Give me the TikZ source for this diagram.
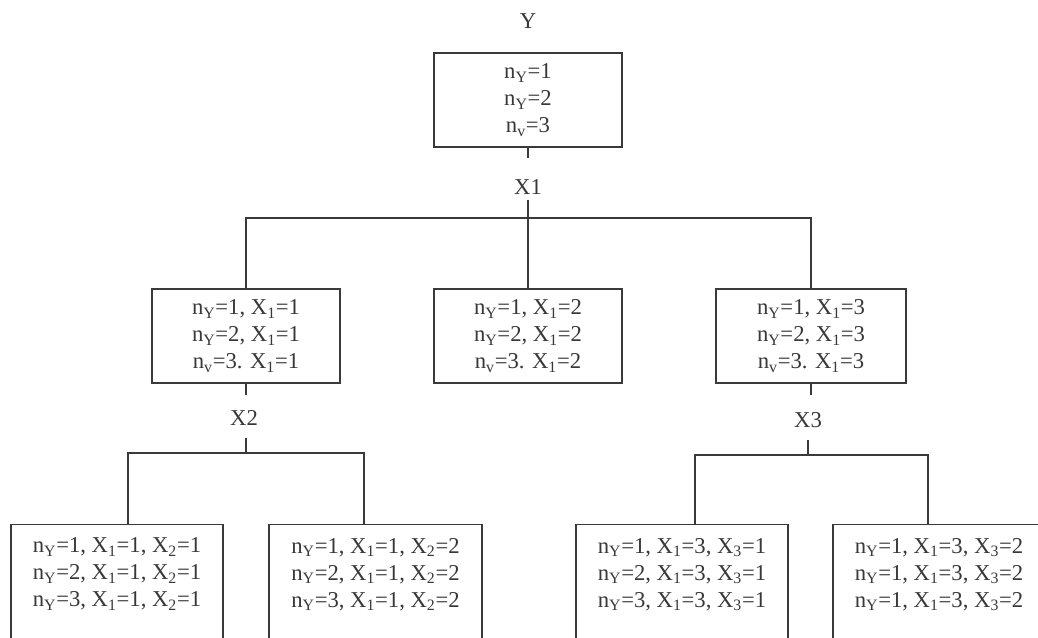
\documentclass[tikz,border=0pt]{standalone}
\usepackage{fontspec}
\setmainfont{Liberation Serif}
\definecolor{tc}{HTML}{383838}
\definecolor{lc}{HTML}{3A3A3A}
\newcommand{\nYs}{n\textsubscript{Y}}
\newcommand{\nVs}{n\textsubscript{v}}
\newcommand{\Xs}[1]{X\textsubscript{#1}}
\newcommand{\bfs}{\fontsize{17}{20.25}\selectfont}
\begin{document}
\begin{tikzpicture}[x=0.75pt,y=-0.75pt,
  every node/.style={text=tc,font=\bfs},
  box/.style={draw=lc,line width=1pt,align=center,inner sep=0pt,minimum width=141pt,minimum height=70.5pt},
  bbox/.style={draw=lc,line width=1pt,inner sep=0pt,anchor=north},
  lbl/.style={inner sep=1pt},
  conn/.style={draw=lc,line width=1pt}]
\useasboundingbox (0,0) rectangle (1038,637);
\fill[white] (0,0) rectangle (1038,637);
\clip (0,0) rectangle (1038,637);

% top
\node[lbl] (ylab) at (528,21) {Y};
\node[box] (top) at (528,100) {\nYs=1\\\nYs=2\\\nVs=3};
\node[lbl] (x1) at (528,187) {X1};
\coordinate (s1) at (528,158);
\coordinate (u1) at (528,200);
\coordinate (j1) at (528,218);
\draw[conn] (top.south) -- (s1);
\draw[conn] (u1) -- (j1);

% level 2
\node[box] (a) at (246,336) {\nYs=1, \Xs{1}=1\\\nYs=2, \Xs{1}=1\\\nVs=3. \Xs{1}=1};
\node[box] (b) at (528,336) {\nYs=1, \Xs{1}=2\\\nYs=2, \Xs{1}=2\\\nVs=3. \Xs{1}=2};
\node[box,minimum width=142.5pt] (c) at (811,336) {\nYs=1, \Xs{1}=3\\\nYs=2, \Xs{1}=3\\\nVs=3. \Xs{1}=3};
\draw[conn] (j1) -| (a.north);
\draw[conn] (j1) -- (b.north);
\draw[conn] (j1) -| (c.north);

% X2 branch
\node[lbl] (x2) at (244,418) {X2};
\coordinate (s2) at (246,395);
\coordinate (u2) at (246,438);
\coordinate (j2) at (246,453);
\draw[conn] (a.south) -- (s2);
\draw[conn] (u2) -- (j2);

% X3 branch
\node[lbl] (x3) at (808,420) {X3};
\coordinate (s3) at (811,395);
\coordinate (u3) at (808,440);
\coordinate (j3) at (808,455);
\draw[conn] (c.south) -- (s3);
\draw[conn] (u3) -- (j3);

% bottom boxes
\newcommand{\bcell}[3]{\parbox[t][110pt][t]{#1}{\centering\vspace*{9pt}#2\\#3}}
\node[bbox] (b1) at (117,524) {\parbox[t][110pt][t]{159pt}{\centering\vspace*{10pt}\nYs=1, \Xs{1}=1, \Xs{2}=1\\\nYs=2, \Xs{1}=1, \Xs{2}=1\\\nYs=3, \Xs{1}=1, \Xs{2}=1}};
\node[bbox] (b2) at (375.5,524) {\parbox[t][110pt][t]{159.75pt}{\centering\vspace*{10pt}\nYs=1, \Xs{1}=1, \Xs{2}=2\\\nYs=2, \Xs{1}=1, \Xs{2}=2\\\nYs=3, \Xs{1}=1, \Xs{2}=2}};
\node[bbox] (b3) at (682,524) {\parbox[t][110pt][t]{159pt}{\centering\vspace*{10pt}\nYs=1, \Xs{1}=3, \Xs{3}=1\\\nYs=2, \Xs{1}=3, \Xs{3}=1\\\nYs=3, \Xs{1}=3, \Xs{3}=1}};
\node[bbox] (b4) at (939,524) {\parbox[t][110pt][t]{159pt}{\centering\vspace*{10pt}\nYs=1, \Xs{1}=3, \Xs{3}=2\\\nYs=1, \Xs{1}=3, \Xs{3}=2\\\nYs=1, \Xs{1}=3, \Xs{3}=2}};

\draw[conn] (j2) -| ([xshift=8.25pt]b1.north);
\draw[conn] (j2) -| ([xshift=-8.6pt]b2.north);
\draw[conn] (j3) -| ([xshift=9.75pt]b3.north);
\draw[conn] (j3) -| ([xshift=-8.25pt]b4.north);
\end{tikzpicture}
\end{document}
